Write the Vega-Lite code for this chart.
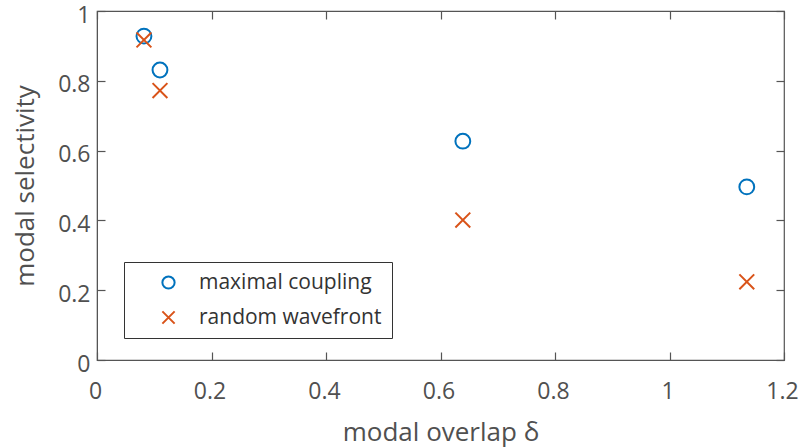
{
  "$schema": "https://vega.github.io/schema/vega-lite/v6.json",
  "autosize": {"type": "none"},
  "width": 687,
  "height": 349,
  "padding": {"left": 97, "top": 11, "right": 15, "bottom": 88},
  "background": "white",
  "config": {
    "view": {"stroke": "#555555", "strokeWidth": 1.2},
    "font": "Open Sans",
    "axis": {
      "domainColor": "#555555",
      "tickColor": "#555555",
      "tickSize": -8,
      "tickWidth": 1.2,
      "grid": false,
      "labelColor": "#505050",
      "titleColor": "#505050",
      "labelFont": "Open Sans",
      "titleFont": "Open Sans",
      "labelFontSize": 23,
      "titleFontSize": 26,
      "titleFontWeight": "normal"
    }
  },
  "data": {
    "values": [
      {"overlap": 0.082, "selectivity": 0.928, "method": "maximal coupling"},
      {"overlap": 0.110, "selectivity": 0.831, "method": "maximal coupling"},
      {"overlap": 0.639, "selectivity": 0.627, "method": "maximal coupling"},
      {"overlap": 1.135, "selectivity": 0.496, "method": "maximal coupling"},
      {"overlap": 0.082, "selectivity": 0.917, "method": "random wavefront"},
      {"overlap": 0.110, "selectivity": 0.772, "method": "random wavefront"},
      {"overlap": 0.639, "selectivity": 0.401, "method": "random wavefront"},
      {"overlap": 1.135, "selectivity": 0.224, "method": "random wavefront"}
    ]
  },
  "resolve": {"axis": {"x": "independent", "y": "independent"}},
  "layer": [
    {
      "mark": {"type": "point", "filled": false, "strokeWidth": 2, "size": 220, "opacity": 1},
      "encoding": {
        "x": {
          "field": "overlap", "type": "quantitative",
          "scale": {"domain": [0, 1.2], "nice": false, "zero": false},
          "axis": {"title": "modal overlap δ", "values": [0, 0.2, 0.4, 0.6, 0.8, 1, 1.2], "labelExpr": "'' + datum.value", "labelPadding": 28, "labelOffset": -2, "labelFlush": false, "titleY": 80, "titleBaseline": "alphabetic"}
        },
        "y": {
          "field": "selectivity", "type": "quantitative",
          "scale": {"domain": [0, 1], "nice": false, "zero": false},
          "axis": {"title": "modal selectivity", "values": [0, 0.2, 0.4, 0.6, 0.8, 1], "labelExpr": "'' + datum.value", "labelPadding": 15, "labelOffset": 4, "titlePadding": 19, "labelFlush": false}
        },
        "color": {
          "field": "method", "type": "nominal",
          "scale": {"domain": ["maximal coupling", "random wavefront"], "range": ["#0072BD", "#D95319"]},
          "legend": {
            "title": null,
            "orient": "none",
            "legendX": 27,
            "legendY": 251,
            "strokeColor": "#333333",
            "fillColor": "white",
            "padding": 10,
            "symbolOffset": 24,
            "labelOffset": 20,
            "labelFontSize": 21,
            "labelLimit": 400,
            "labelExpr": "datum.label + '   '",
            "labelColor": "#333333",
            "labelFont": "Open Sans",
            "rowPadding": 13,
            "symbolSize": 150,
            "symbolStrokeWidth": 2
          }
        },
        "shape": {
          "field": "method", "type": "nominal",
          "scale": {"domain": ["maximal coupling", "random wavefront"], "range": ["circle", "M-1,-1L1,1M1,-1L-1,1"]},
          "legend": null
        }
      }
    },
    {
      "mark": {"type": "point", "opacity": 0},
      "encoding": {
        "x": {
          "field": "overlap", "type": "quantitative",
          "axis": {"orient": "top", "title": null, "labels": false, "values": [0, 0.2, 0.4, 0.6, 0.8, 1, 1.2], "domain": false}
        },
        "y": {
          "field": "selectivity", "type": "quantitative",
          "axis": {"orient": "right", "title": null, "labels": false, "values": [0, 0.2, 0.4, 0.6, 0.8, 1], "domain": false}
        }
      }
    }
  ]
}
